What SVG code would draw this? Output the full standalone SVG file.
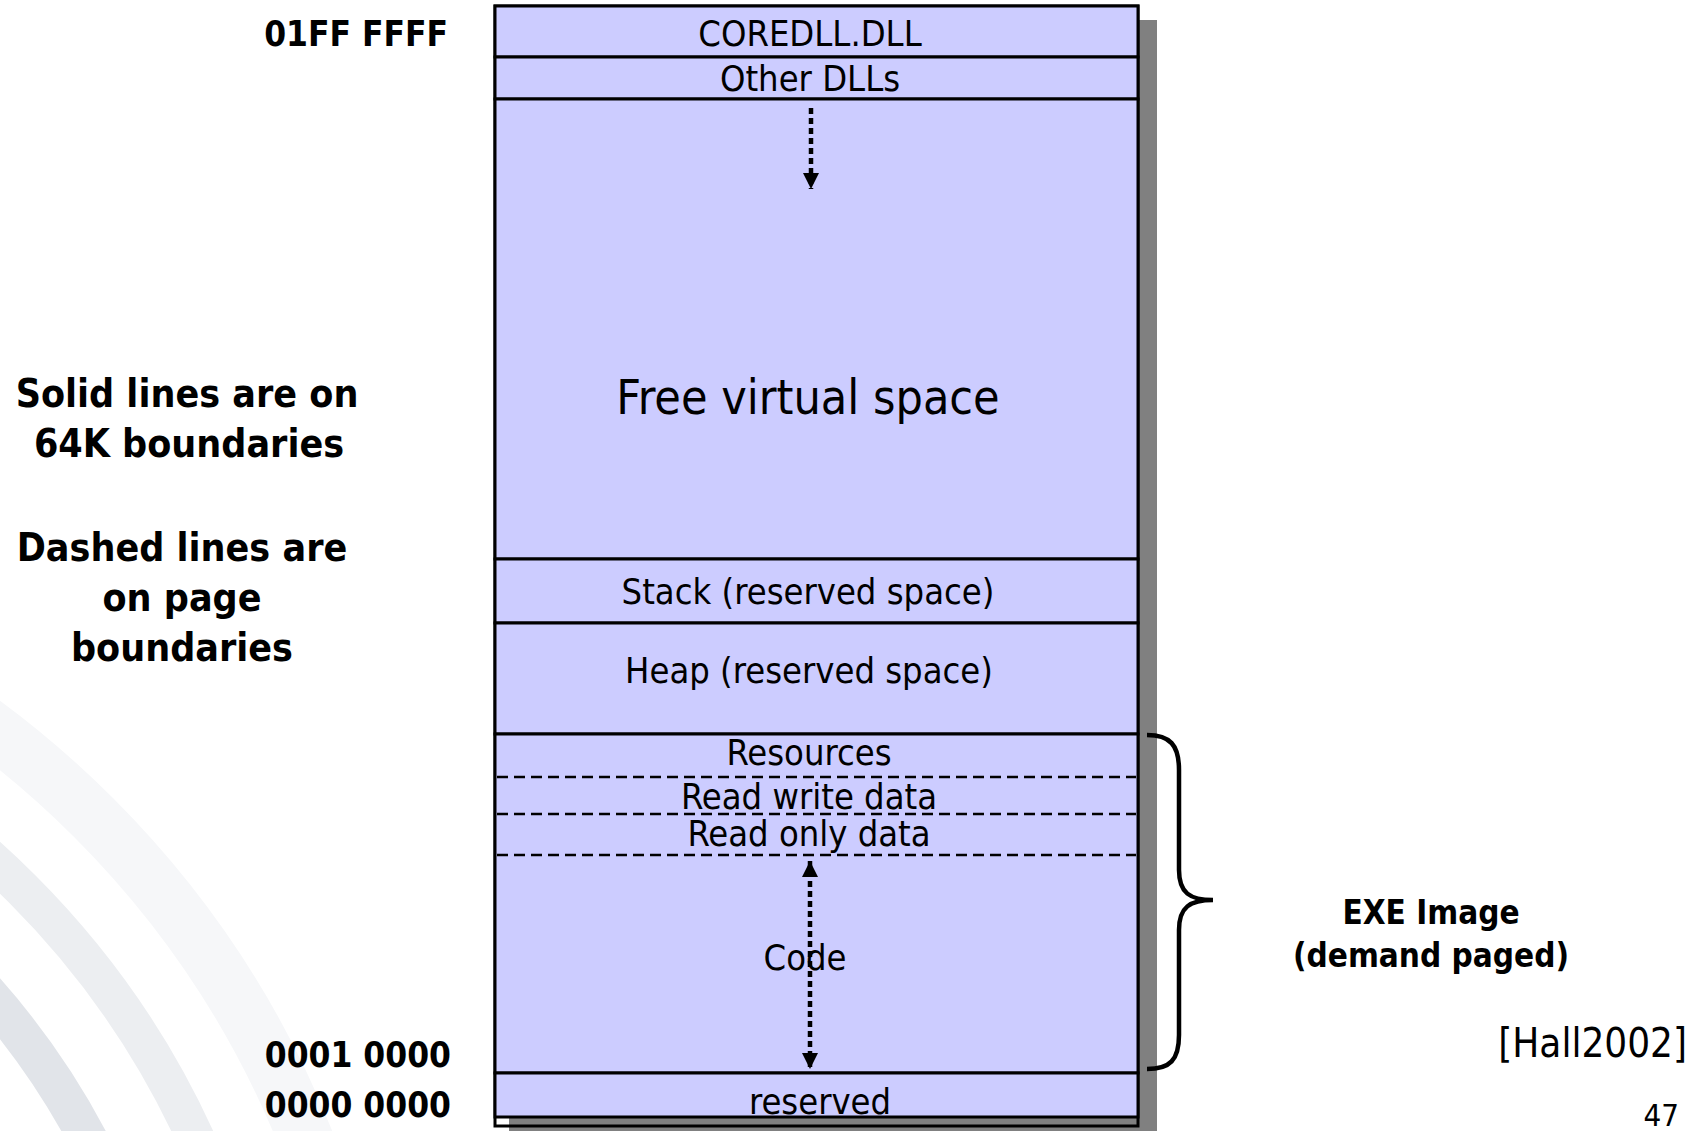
<svg xmlns="http://www.w3.org/2000/svg" width="1701" height="1131" viewBox="0 0 1701 1131">
<style>
.sec{fill:#ccccff;stroke:#000;stroke-width:3}
.dash{stroke:#000;stroke-width:2.5;stroke-dasharray:11 6;fill:none}
.lbl{font-family:"DejaVu Sans Condensed","DejaVu Sans",sans-serif;font-stretch:condensed;font-size:36px;fill:#000;text-anchor:middle}
.big{font-size:48px}
.bold{font-family:"DejaVu Sans Condensed","DejaVu Sans",sans-serif;font-stretch:condensed;font-weight:bold;fill:#000}
.addr{font-size:35px;text-anchor:end}
.note{font-size:39px;text-anchor:middle}
.exe{font-size:33px;text-anchor:middle}
.ring{fill:none}
.dot{stroke:#000;stroke-width:4.5;stroke-dasharray:6 4;fill:none}
</style>
<defs>
<marker id="ah" viewBox="0 0 16 16" refX="16" refY="8" markerWidth="16" markerHeight="16" markerUnits="userSpaceOnUse" orient="auto-start-reverse">
<path d="M0,0 L16,8 L0,16 Z" fill="#000"/>
</marker>
</defs>
<rect width="1701" height="1131" fill="#fff"/>
<g id="background">
<circle class="ring" cx="-586" cy="1497" r="961" stroke="#f6f7f9" stroke-width="55"/>
<circle class="ring" cx="-586" cy="1497" r="860" stroke="#eceef1" stroke-width="38"/>
<circle class="ring" cx="-586" cy="1497" r="763" stroke="#e1e4e9" stroke-width="39"/>
</g>
<g id="frame">
<rect x="509" y="20" width="648" height="1125" fill="#808080"/>
<rect x="495" y="6" width="643" height="1120" fill="none" stroke="#000" stroke-width="3"/>
</g>
<g id="coredll"><rect class="sec" x="495" y="6" width="643" height="51"/><text class="lbl" x="810" y="46">COREDLL.DLL</text></g>
<g id="otherdlls"><rect class="sec" x="495" y="57" width="643" height="42"/><text class="lbl" x="810" y="91">Other DLLs</text></g>
<g id="free"><rect class="sec" x="495" y="99" width="643" height="460"/><text class="lbl big" x="808" y="414">Free virtual space</text></g>
<g id="stack"><rect class="sec" x="495" y="559" width="643" height="64"/><text class="lbl" x="808" y="604">Stack (reserved space)</text></g>
<g id="heap"><rect class="sec" x="495" y="623" width="643" height="111"/><text class="lbl" x="809" y="683">Heap (reserved space)</text></g>
<g id="exe">
<rect class="sec" x="495" y="734" width="643" height="339"/>
<line class="dash" x1="497" y1="777" x2="1136" y2="777"/>
<line class="dash" x1="497" y1="814" x2="1136" y2="814"/>
<line class="dash" x1="497" y1="855" x2="1136" y2="855"/>
</g>
<g id="resources"><text class="lbl" x="809" y="765">Resources</text></g>
<g id="rwdata"><text class="lbl" x="809" y="809">Read write data</text></g>
<g id="rodata"><text class="lbl" x="809" y="846">Read only data</text></g>
<g id="code"><text class="lbl" x="805" y="970">Code</text></g>
<g id="reserved"><rect class="sec" x="495" y="1073" width="643" height="44"/><text class="lbl" x="820" y="1114">reserved</text></g>
<g id="connectors">
<line class="dot" x1="811" y1="108" x2="811" y2="189" marker-end="url(#ah)"/>
<line class="dot" x1="810" y1="861" x2="810" y2="1069" marker-start="url(#ah)" marker-end="url(#ah)"/>
</g>
<g id="brace">
<path d="M1147,735 C1170,735 1179,745 1179,770 L1179,870 C1179,893 1190,900 1213,900 C1190,900 1179,907 1179,930 L1179,1035 C1179,1060 1170,1069 1147,1069" fill="none" stroke="#000" stroke-width="4.5"/>
</g>
<g id="labels">
<text class="bold addr" x="448" y="46">01FF FFFF</text>
<text class="bold addr" x="451" y="1067">0001 0000</text>
<text class="bold addr" x="451" y="1117">0000 0000</text>
<text class="bold note" x="187" y="407">Solid lines are on</text>
<text class="bold note" x="189" y="457">64K boundaries</text>
<text class="bold note" x="182" y="561">Dashed lines are</text>
<text class="bold note" x="182" y="611">on page</text>
<text class="bold note" x="182" y="661">boundaries</text>
<text class="bold exe" x="1431" y="924">EXE Image</text>
<text class="bold exe" x="1431" y="967">(demand paged)</text>
<text class="lbl" x="1687" y="1057" style="text-anchor:end;font-size:40px">[Hall2002]</text>
<text class="lbl" x="1679" y="1126" style="text-anchor:end;font-size:31px">47</text>
</g>
</svg>
